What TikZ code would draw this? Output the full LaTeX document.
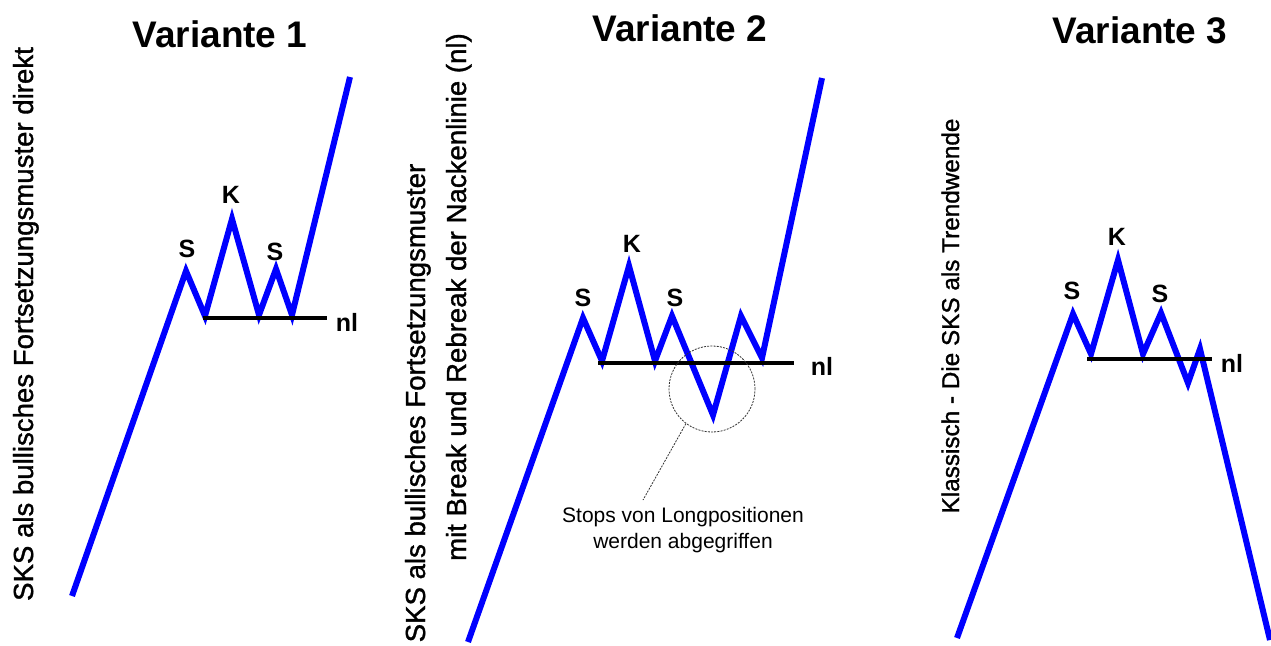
\documentclass[tikz,border=0pt]{standalone}
\usepackage{fontspec}
\setmainfont{Liberation Sans}
\newfontfamily\sidefont[FakeBold=1.2]{Liberation Sans}
\begin{document}
\begin{tikzpicture}[x=1pt,y=-1pt,
  trend/.style={draw=blue, line width=6pt, line join=miter},
  neck/.style={draw=black, line width=3.5pt},
  title/.style={font=\fontsize{37}{44}\selectfont\bfseries, inner sep=0pt, anchor=base},
  lbl/.style={font=\fontsize{25}{28}\selectfont\bfseries, inner sep=0pt},
  side/.style={font=\sidefont\fontsize{27.6}{32}\selectfont, inner sep=0pt, rotate=90, anchor=base},
  note/.style={font=\fontsize{21}{26}\selectfont, align=center, inner sep=0pt},
  ringstyle/.style={circle, draw=black!80, line width=0.8pt, dash pattern=on 2pt off 1.2pt, minimum size=86pt, inner sep=0pt},
  pointer/.style={draw=black!80, line width=0.8pt, dash pattern=on 2pt off 1.2pt}]
\useasboundingbox (0,0) rectangle (1271,645);
\fill[white] (0,0) rectangle (1271,645);

% titles
\node[title] (t1) at (220,47) {Variante 1};
\node[title] (t2) at (680,41) {Variante 2};
\node[title] (t3) at (1140,43) {Variante 3};

% side texts
\node[side] (s1) at (33,324) {SKS als bullisches Fortsetzungsmuster direkt};
\node[side] (s2a) at (425,403) {SKS als bullisches Fortsetzungsmuster};
\node[side] (s2b) at (466,297) {mit Break und Rebreak der Nackenlinie (nl)};
\node[side, font=\sidefont\fontsize{24.3}{28}\selectfont] (s3) at (959,316) {Klassisch - Die SKS als Trendwende};

% panel 1
\draw[trend] (72,596) -- (186,271) -- (205,316) -- (232,219) -- (259,315) -- (276,269) -- (292,315) -- (350,77);
\draw[neck] (203,318) -- (327,318);
\node[lbl] (p1s1) at (187,249) {S};
\node[lbl] (p1k) at (231,195) {K};
\node[lbl] (p1s2) at (275,252) {S};
\node[lbl] (p1nl) at (347,322) {nl};

% panel 2
\draw[trend] (468,642) -- (583,318) -- (602,361) -- (629,266) -- (655,361) -- (672,316) -- (713,415) -- (741,316) -- (762,358) -- (822,78);
\draw[neck] (598,363) -- (794,363);
\node[lbl] (p2s1) at (583,298) {S};
\node[lbl] (p2k) at (632,244) {K};
\node[lbl] (p2s2) at (675,298) {S};
\node[lbl] (p2nl) at (822,366) {nl};
\node[ringstyle] (ring) at (712,389) {};
\node[note] (stops) at (683,530) {Stops von Longpositionen\\werden abgegriffen};
\coordinate (ptr) at (643,500);
\draw[pointer] (ring.233) -- (ptr);

% panel 3
\draw[trend] (957,638) -- (1073,314) -- (1091,354) -- (1118,260) -- (1143,354) -- (1161,313) -- (1188,383) -- (1200,349) -- (1270,640);
\draw[neck] (1087,359) -- (1212,359);
\node[lbl] (p3s1) at (1072,291) {S};
\node[lbl] (p3k) at (1117,237) {K};
\node[lbl] (p3s2) at (1160,294) {S};
\node[lbl] (p3nl) at (1232,363) {nl};
\end{tikzpicture}
\end{document}
